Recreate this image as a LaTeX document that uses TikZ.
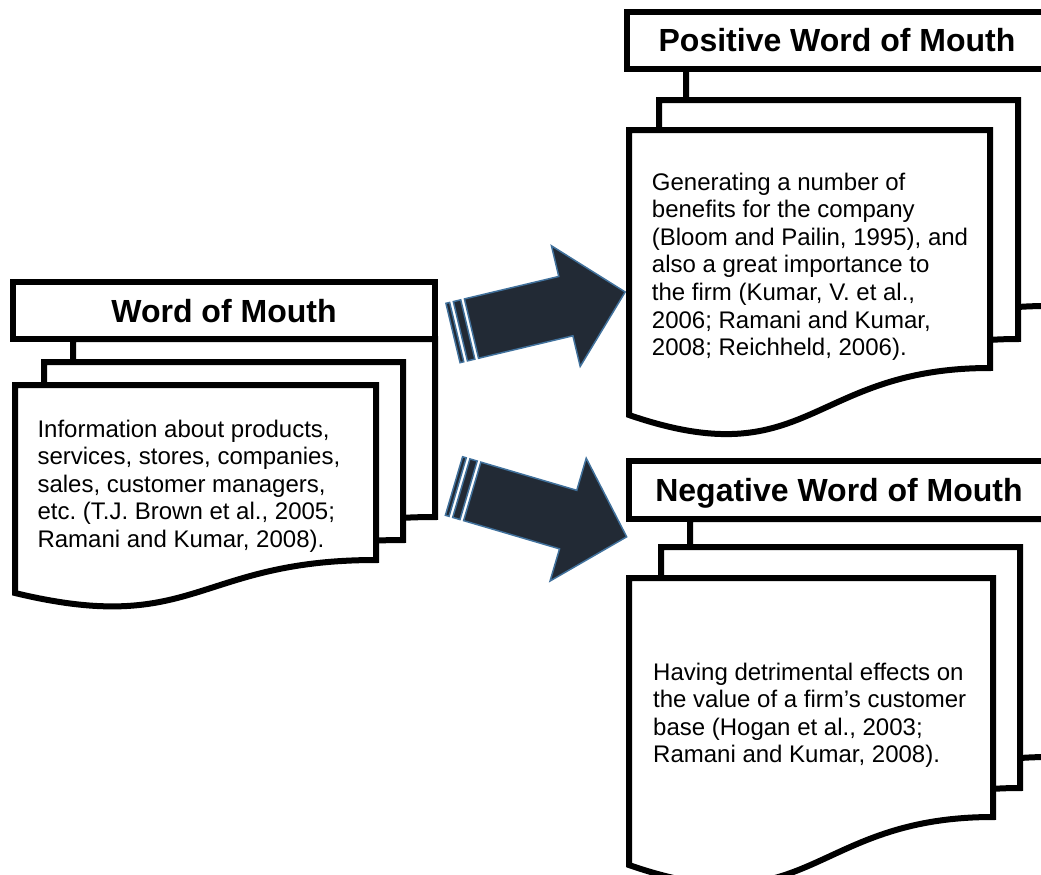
\documentclass[tikz,border=0pt]{standalone}
\usepackage{fontspec}
\setmainfont{Liberation Sans}
\frenchspacing
\definecolor{arrowfill}{HTML}{222A35}
\definecolor{arrowedge}{HTML}{41719C}

\tikzset{
  page/.style={draw=black, fill=white, line width=6pt, line join=miter},
  titlebox/.style={draw=black, fill=white, line width=6pt, inner sep=0pt,
    text depth=0pt, text height=23pt, font=\fontsize{32}{36}\selectfont\bfseries},
  titletext/.style={inner sep=0pt, text depth=0pt, text height=23pt,
    font=\fontsize{32}{36}\selectfont\bfseries},
  bodytext/.style={inner sep=0pt, anchor=base west, font=\fontsize{24}{27.6}\selectfont},
  blockarrow/.style={fill=arrowfill, draw=arrowedge, line width=1.5pt, line join=miter},
}

% one sheet of a stacked document: left x, top y, right x, y of the wave at the right, y of the wave at the left
\newcommand{\docpage}[5]{%
  \draw[page] (#1,#2) -- (#3,#2) -- (#3,#4)
    .. controls ({(#1+#3)/2},#4) and ({(#1+#3)/2},{#4+2.32*(#5-#4)}) .. (#1,#5) -- cycle;}

% striped block arrow: tail centre x, y, angle, length, half width of the head
\newcommand{\stripedarrow}[5]{%
  \begin{scope}[shift={(#1,#2)}, rotate=#3]
    \draw[blockarrow] (0,-30.5) rectangle (3.8,30.5);
    \draw[blockarrow] (7.6,-30.5) rectangle (15.2,30.5);
    \draw[blockarrow] (19,-30.5) -- ({#4-61},-30.5) -- ({#4-61},-#5) -- (#4,0)
      -- ({#4-61},#5) -- ({#4-61},30.5) -- (19,30.5) -- cycle;
  \end{scope}}

\begin{document}
\begin{tikzpicture}[x=1pt, y=-1pt]
\useasboundingbox (0,0) rectangle (1041,875);
\clip (0,0) rectangle (1041,875);

% arrows from the general term to its two kinds
\stripedarrow{453}{333}{13.4}{177}{62}
\stripedarrow{454}{486}{-16.4}{180}{64}

% Word of Mouth
\docpage{73}{339}{435}{517}{550}
\docpage{44}{362}{403}{540}{573}
\docpage{15}{385}{376}{560}{593}
\node[titlebox, minimum width=422pt, minimum height=57pt] (wom) at (224,310.5) {Word of Mouth};
\node[bodytext] (womtext) at (37.3,437) {\parbox[t]{340pt}{\raggedright
  Information about products,\\
  services, stores, companies,\\
  sales, customer managers,\\
  etc. (T.J. Brown et al., 2005;\\
  Ramani and Kumar, 2008).}};

% Positive Word of Mouth
\docpage{686}{69}{1047}{306}{353}
\docpage{659}{100}{1018}{339}{386}
\docpage{629}{130}{990}{368}{415}
\node[titlebox, minimum width=420pt, minimum height=57pt] (pwom) at (837,40.5) {Positive Word of Mouth};
\node[bodytext] (pwomtext) at (651.7,190) {\parbox[t]{340pt}{\raggedright
  Generating a number of\\
  benefits for the company\\
  (Bloom and Pailin, 1995), and\\
  also a great importance to\\
  the firm (Kumar, V. et al.,\\
  2006; Ramani and Kumar,\\
  2008; Reichheld, 2006).}};

% Negative Word of Mouth
\docpage{690}{519}{1049}{757}{805}
\docpage{661}{547}{1020}{788}{836}
\docpage{629}{578}{993}{817}{865}
\node[titlebox, minimum width=420pt, minimum height=58pt] (nwom) at (839,490) {};
\begin{scope}
  \clip (629,461) rectangle (1049,507);
  \node[titletext] (nwomtitle) at (nwom.center) {Negative Word of Mouth};
\end{scope}
\node[bodytext] (nwomtext) at (653,680) {\parbox[t]{340pt}{\raggedright
  Having detrimental effects on\\
  the value of a firm’s customer\\
  base (Hogan et al., 2003;\\
  Ramani and Kumar, 2008).}};
\end{tikzpicture}
\end{document}
